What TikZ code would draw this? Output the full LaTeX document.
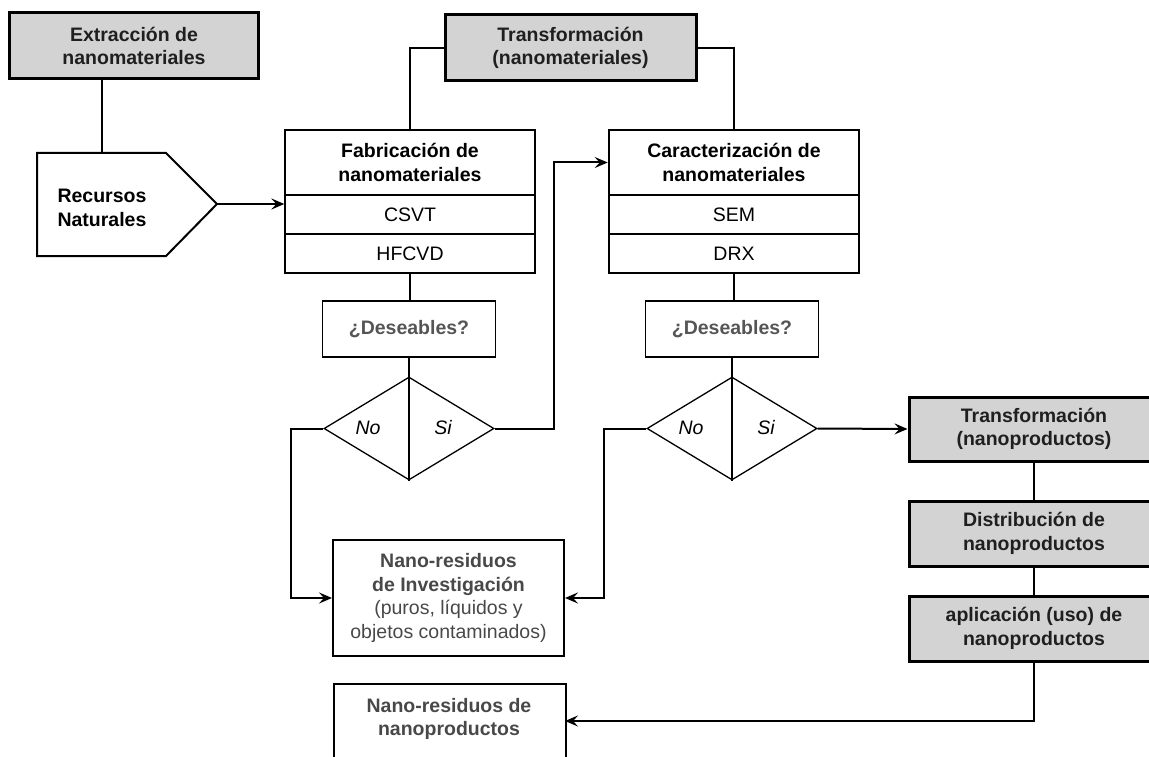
\documentclass[tikz,border=0pt]{standalone}
\usepackage{fontspec}
\setmainfont{Liberation Sans}
\usetikzlibrary{arrows.meta,shapes.geometric}
\definecolor{boxgray}{HTML}{D3D3D3}
\definecolor{txtgray}{HTML}{555555}
\definecolor{resgray}{HTML}{484848}
\newcommand\myfs{\fontsize{19.5}{23.5}\selectfont}
\begin{document}
\begin{tikzpicture}[x=1pt,y=-1pt,
  every node/.style={inner sep=0pt, align=center, font=\myfs},
  gbox/.style={draw, line width=3pt, fill=boxgray, font=\myfs\bfseries, text=black!88, minimum width=250pt},
  titlebox/.style={draw, line width=2.6pt, fill=white, font=\myfs\bfseries, minimum width=250pt, minimum height=65pt},
  rowbox/.style={draw, line width=1.3pt, minimum width=250pt, minimum height=39pt},
  askbox/.style={draw, line width=1.3pt, font=\myfs\bfseries, text=txtgray, minimum width=173pt, minimum height=56pt},
  resbox/.style={draw, line width=2pt, text=resgray, minimum width=231pt},
  decis/.style={draw, diamond, line width=1.3pt, minimum width=170pt, minimum height=103pt},
  lab/.style={font=\myfs\itshape},
  conn/.style={line width=2pt},
  arr/.style={line width=2pt, -{Stealth[length=13pt,width=11pt,inset=5pt]}}
]
\useasboundingbox (0,0) rectangle (1149,757);

% top-left
\node[gbox, minimum width=249pt, minimum height=66pt] (ext) at (134,46) {Extracción de\\nanomateriales};
\draw[line width=2pt] (37,153) -- (166,153) -- (217,204) -- (166,256) -- (37,256) -- cycle;
\coordinate (rtop) at (102,153);
\coordinate (rtip) at (217,204);
\node[font=\myfs\bfseries, align=left] (rec) at (102,208) {Recursos\\Naturales};

% transformation (nanomateriales)
\node[gbox, minimum width=251pt, minimum height=66pt] (tnm) at (570.5,48) {Transformación\\(nanomateriales)};

% column 1
\node[titlebox] (fab) at (410,162.5) {Fabricación de\\nanomateriales};
\node[rowbox] (csvt) at (410,214.5) {CSVT};
\node[rowbox] (hfcvd) at (410,253.5) {HFCVD};
\node[askbox] (des1) at (409,329) {¿Deseables?};
\node[decis] (d1) at (409,428.5) {};
\draw[line width=1.3pt] (d1.north) -- (d1.south);
\node[lab] (no1) at (368,428) {No};
\node[lab] (si1) at (443,428) {Si};

% column 2
\node[titlebox] (car) at (734,162.5) {Caracterización de\\nanomateriales};
\node[rowbox] (sem) at (734,214.5) {SEM};
\node[rowbox] (drx) at (734,253.5) {DRX};
\node[askbox] (des2) at (732,329) {¿Deseables?};
\node[decis] (d2) at (732,428.5) {};
\draw[line width=1.3pt] (d2.north) -- (d2.south);
\node[lab] (no2) at (691,428) {No};
\node[lab] (si2) at (766,428) {Si};

% right column
\node[gbox, minimum height=64pt] (tnp) at (1034,429) {Transformación\\(nanoproductos)};
\node[gbox, minimum height=65pt] (dis) at (1034,533.5) {Distribución de\\nanoproductos};
\node[gbox, minimum height=65pt] (apl) at (1034,628.5) {aplicación (uso) de\\nanoproductos};

% residues
\node[resbox, minimum height=116pt] (nri) at (448.5,598) {\textbf{Nano-residuos}\\\textbf{de Investigación}\\(puros, líquidos y\\objetos contaminados)};
\node[resbox, anchor=north west, minimum width=232pt, minimum height=110pt] (nrpbox) at (333,683) {};
\node[text=resgray, font=\myfs\bfseries] (nrp) at (449,719) {Nano-residuos de\\nanoproductos};
\coordinate (nrpin) at (565,721);

% connectors
\draw[conn] (rtop |- ext.south) -- (rtop);
\draw[arr] (rtip) -- (rtip -| csvt.west);
\draw[conn] (tnm.west) -| (fab.north);
\draw[conn] (tnm.east) -| (car.north);
\draw[conn] (hfcvd.south) -- (hfcvd.south |- des1.north);
\draw[conn] (des1.south) -- (d1.north);
\draw[conn] (drx.south) -- (drx.south |- des2.north);
\draw[conn] (des2.south) -- (d2.north);
\draw[arr] (d1.west) -- ++(-32,0) |- (nri.west);
\draw[arr] (d1.east) -- ++(59,0) |- (car.west);
\draw[arr] (d2.west) -- ++(-42,0) |- (nri.east);
\draw[arr] (d2.east) -- (tnp.west);
\draw[conn] (tnp.south) -- (dis.north);
\draw[conn] (dis.south) -- (apl.north);
\draw[arr] (apl.south) |- (nrpin);
\end{tikzpicture}
\end{document}
